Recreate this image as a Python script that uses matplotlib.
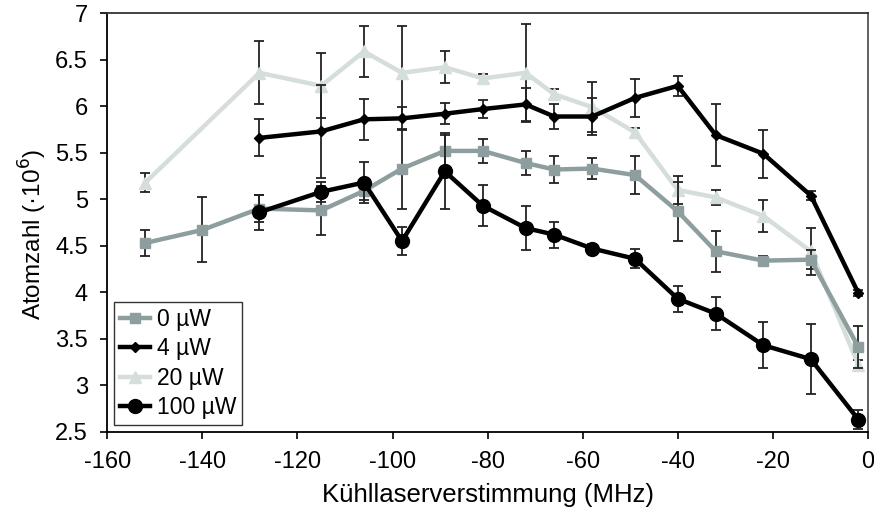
import numpy as np
import matplotlib
matplotlib.use("Agg")
import matplotlib.pyplot as plt

plt.rcParams['font.family'] = ['Liberation Sans', 'DejaVu Sans']
plt.rcParams['axes.unicode_minus'] = False

# Verstimmung (MHz)
det = [-152, -140, -128, -115, -106, -98, -89, -81, -72, -66, -58, -49, -40, -32, -22, -12, -2]
det4 = det[2:]
det100 = det[2:]

# Atomzahl (1e6) und Fehler
n0 = [4.53, 4.67, 4.90, 4.88, 5.09, 5.33, 5.52, 5.52, 5.39, 5.32, 5.33, 5.26, 4.87, 4.44, 4.34, 4.35, 3.41]
e0 = [0.14, 0.35, 0.15, 0.26, 0.10, 0.43, 0.17, 0.13, 0.13, 0.15, 0.11, 0.20, 0.32, 0.22, 0.05, 0.10, 0.23]

n4 = [5.66, 5.73, 5.86, 5.87, 5.92, 5.97, 6.02, 5.89, 5.89, 6.09, 6.22, 5.69, 5.49, 5.04, 3.99]
e4 = [0.20, 0.50, 0.22, 0.12, 0.11, 0.10, 0.18, 0.13, 0.20, 0.20, 0.11, 0.33, 0.26, 0.05, 0.03]

n20 = [5.18, None, 6.36, 6.22, 6.59, 6.36, 6.42, 6.30, 6.36, 6.13, 5.99, 5.72, 5.10, 5.02, 4.82, 4.44, 3.22]
e20 = [0.10, None, 0.34, 0.35, 0.27, 0.50, 0.17, 0.05, 0.53, 0.06, 0.27, 0.05, 0.15, 0.08, 0.17, 0.25, 0.05]

n100 = [4.86, 5.08, 5.18, 4.55, 5.30, 4.93, 4.69, 4.62, 4.47, 4.36, 3.93, 3.77, 3.43, 3.28, 2.63]
e100 = [0.19, 0.11, 0.22, 0.15, 0.41, 0.22, 0.24, 0.14, 0.05, 0.10, 0.14, 0.18, 0.25, 0.38, 0.10]

# 20 µW hat keinen Punkt bei -140
x20 = [d for d, v in zip(det, n20) if v is not None]
y20 = [v for v in n20 if v is not None]
err20 = [v for v in e20 if v is not None]

fig = plt.figure(figsize=(8.74, 5.16), dpi=100)
ax = fig.add_axes([0.1228, 0.1634, 0.8702, 0.8108])

errkw = dict(ecolor='#222222', elinewidth=1.3, capsize=3.5, capthick=1.3)

c0 = ax.errorbar(det, n0, yerr=e0, color='#8e9e9e', lw=3.2, marker='s', ms=7.5,
                 zorder=3, **errkw)
c4 = ax.errorbar(det4, n4, yerr=e4, color='black', lw=3.2, marker='D', ms=5.5,
                 zorder=4, **errkw)
c20 = ax.errorbar(x20, y20, yerr=err20, color='#d5dedb', lw=3.2, marker='^', ms=9,
                  zorder=2, **errkw)
c100 = ax.errorbar(det100, n100, yerr=e100, color='black', lw=3.2, marker='o', ms=10,
                   zorder=5, **errkw)

ax.set_xlim(-160, 0)
ax.set_ylim(2.5, 7)
ax.set_xticks(np.arange(-160, 1, 20))
ax.set_yticks(np.arange(2.5, 7.01, 0.5))
ax.set_yticklabels(['2.5', '3', '3.5', '4', '4.5', '5', '5.5', '6', '6.5', '7'])
ax.tick_params(labelsize=17, direction='out', length=5, width=1.2, pad=9)

for s in ax.spines.values():
    s.set_linewidth(1.3)
ax.spines['right'].set_color('#555555')
ax.spines['top'].set_color('#333333')

ax.set_xlabel('Kühllaserverstimmung (MHz)', fontsize=18.5, labelpad=7)
ax.set_ylabel('Atomzahl (·10$^{6}$)', fontsize=17.5)
ax.yaxis.set_label_coords(-0.077, 0.472)

# Legende nur mit Linien, ohne Fehlerbalken
leg = ax.legend([c0[0], c4[0], c20[0], c100[0]], ['0 µW', '4 µW', '20 µW', '100 µW'],
                loc='lower left', fontsize=16.5, frameon=True, fancybox=False,
                handlelength=1.3, handletextpad=0.3, labelspacing=0.28,
                borderpad=0.25, borderaxespad=0.3)
leg.get_frame().set_edgecolor('black')
leg.get_frame().set_linewidth(1.0)

fig.savefig('out.png', dpi=100)
